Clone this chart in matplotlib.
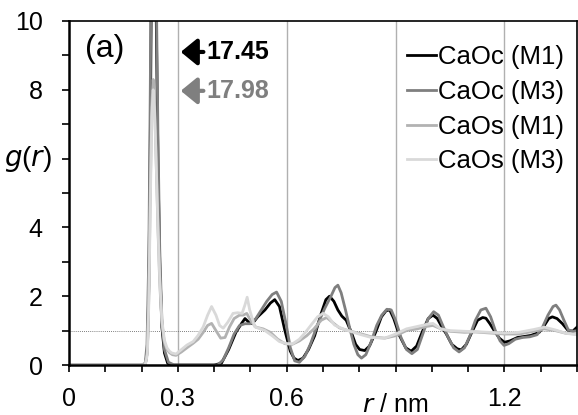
import numpy as np
import matplotlib
matplotlib.use('Agg')
import matplotlib.pyplot as plt
from matplotlib.ticker import MultipleLocator

plt.rcParams['font.family'] = ['Liberation Sans', 'DejaVu Sans']

# CaOc (M1)
r_oc1 = [0.0, 0.21, 0.216, 0.22, 0.224, 0.228, 0.232, 0.236, 0.24, 0.245, 0.25, 0.256, 0.263, 0.272, 0.28,
         0.40, 0.42, 0.44, 0.46, 0.475, 0.485, 0.495, 0.505, 0.52, 0.54, 0.555, 0.567, 0.58, 0.595,
         0.61, 0.62, 0.631, 0.645, 0.66, 0.677, 0.695, 0.708, 0.718, 0.73, 0.741, 0.752, 0.764, 0.778,
         0.79, 0.801, 0.815, 0.828, 0.845, 0.861, 0.874, 0.884, 0.895, 0.911, 0.928, 0.943, 0.958,
         0.975, 0.99, 1.003, 1.015, 1.028, 1.04, 1.055, 1.07, 1.081, 1.095, 1.11, 1.126, 1.14, 1.149,
         1.16, 1.173, 1.186, 1.2, 1.215, 1.236, 1.255, 1.273, 1.296, 1.31, 1.322, 1.332, 1.345, 1.36,
         1.374, 1.388, 1.4]
g_oc1 = [0, 0, 0.4, 2.3, 6.5, 12.5, 17.45, 15, 10.5, 6, 3, 1.1, 0.35, 0.05, 0,
         0, 0.05, 0.45, 0.95, 1.2, 1.35, 1.25, 1.2, 1.4, 1.6, 1.8, 1.9, 1.7, 1.0,
         0.4, 0.2, 0.13, 0.2, 0.45, 0.85, 1.5, 1.9, 2.0, 1.85, 1.6, 1.42, 1.3, 0.95,
         0.6, 0.45, 0.42, 0.55, 0.95, 1.4, 1.58, 1.6, 1.35, 0.85, 0.5, 0.4, 0.55,
         1.0, 1.35, 1.45, 1.35, 1.1, 0.9, 0.6, 0.47, 0.44, 0.6, 0.95, 1.3, 1.38, 1.36,
         1.2, 0.98, 0.78, 0.66, 0.7, 0.8, 0.83, 0.86, 0.95, 1.15, 1.35, 1.4, 1.35, 1.2,
         1.02, 0.98, 1.1]

# CaOc (M3)
r_oc3 = [0.2, 0.21, 0.215, 0.22, 0.224, 0.228, 0.232, 0.236, 0.24, 0.245, 0.25, 0.256, 0.263, 0.274, 0.29,
         0.41, 0.425, 0.44, 0.455, 0.47, 0.485, 0.5, 0.515, 0.53, 0.545, 0.56, 0.572, 0.585, 0.598,
         0.61, 0.622, 0.635, 0.65, 0.665, 0.686, 0.705, 0.722, 0.733, 0.741, 0.75, 0.762, 0.773, 0.785,
         0.796, 0.806, 0.818, 0.832, 0.848, 0.862, 0.876, 0.888, 0.9, 0.915, 0.93, 0.945, 0.96, 0.975,
         0.99, 1.005, 1.018, 1.03, 1.045, 1.06, 1.075, 1.09, 1.105, 1.12, 1.135, 1.149, 1.162, 1.175,
         1.188, 1.199, 1.212, 1.23, 1.25, 1.27, 1.29, 1.305, 1.32, 1.334, 1.342, 1.352, 1.364, 1.376,
         1.39, 1.4]
g_oc3 = [0, 0.05, 0.6, 3.2, 8, 14, 17.98, 16, 11.5, 6.8, 3.4, 1.3, 0.45, 0.08, 0,
         0, 0.15, 0.5, 0.9, 1.15, 1.2, 1.2, 1.35, 1.6, 1.85, 2.05, 2.12, 1.85, 1.2,
         0.5, 0.12, 0.08, 0.25, 0.6, 1.2, 1.65, 2.0, 2.25, 2.32, 2.1, 1.6, 1.1, 0.6,
         0.3, 0.2, 0.3, 0.65, 1.15, 1.45, 1.62, 1.6, 1.3, 0.8, 0.45, 0.33, 0.45, 0.9,
         1.35, 1.55, 1.45, 1.15, 0.8, 0.5, 0.38, 0.5, 0.85, 1.3, 1.6, 1.65, 1.4, 1.0,
         0.7, 0.57, 0.62, 0.75, 0.8, 0.82, 0.88, 1.1, 1.45, 1.7, 1.74, 1.6, 1.3, 1.02,
         0.98, 1.0]

# CaOs (M1)
r_os1 = [0.0, 0.21, 0.216, 0.22, 0.224, 0.228, 0.232, 0.236, 0.24, 0.245, 0.25, 0.256, 0.263, 0.27,
         0.277, 0.285, 0.295, 0.31, 0.325, 0.342, 0.356, 0.37, 0.382, 0.393, 0.405, 0.418, 0.43,
         0.442, 0.455, 0.47, 0.48, 0.49, 0.5, 0.515, 0.535, 0.555, 0.575, 0.595, 0.615, 0.635, 0.655,
         0.675, 0.695, 0.71, 0.725, 0.745, 0.77, 0.8, 0.833, 0.87, 0.9, 0.93, 0.96, 0.985, 1.003,
         1.025, 1.05, 1.09, 1.12, 1.16, 1.2, 1.24, 1.28, 1.31, 1.34, 1.37, 1.4]
g_os1 = [0, 0, 0.4, 2.0, 5.0, 7.5, 8.3, 7.6, 6.0, 4.0, 2.4, 1.2, 0.65, 0.45,
         0.36, 0.3, 0.28, 0.38, 0.5, 0.63, 0.75, 0.95, 1.15, 1.21, 1.0, 0.78, 0.8,
         1.1, 1.35, 1.45, 1.45, 1.5, 1.3, 1.1, 1.05, 0.95, 0.75, 0.62, 0.6, 0.7, 0.85,
         1.05, 1.3, 1.38, 1.25, 1.08, 1.0, 0.92, 0.82, 0.78, 0.85, 1.0, 1.05, 1.12, 1.15,
         1.05, 0.98, 0.95, 0.96, 0.93, 0.9, 0.9, 0.98, 1.05, 1.0, 0.92, 0.9]

# CaOs (M3)
r_os3 = [0.0, 0.21, 0.216, 0.22, 0.224, 0.228, 0.232, 0.236, 0.24, 0.245, 0.25, 0.256, 0.263, 0.27,
         0.277, 0.283, 0.295, 0.31, 0.325, 0.342, 0.355, 0.37, 0.382, 0.393, 0.405, 0.415, 0.425,
         0.438, 0.452, 0.465, 0.477, 0.485, 0.491, 0.498, 0.512, 0.54, 0.56, 0.58, 0.6, 0.617, 0.635,
         0.65, 0.67, 0.685, 0.7, 0.715, 0.732, 0.755, 0.778, 0.805, 0.833, 0.87, 0.9, 0.93, 0.96,
         0.985, 1.003, 1.025, 1.05, 1.09, 1.12, 1.16, 1.2, 1.24, 1.28, 1.31, 1.34, 1.37, 1.4]
g_os3 = [0, 0, 0.3, 1.8, 4.6, 7.2, 8.0, 7.4, 6.0, 4.1, 2.5, 1.3, 0.72, 0.5,
         0.4, 0.35, 0.32, 0.45, 0.58, 0.68, 0.85, 1.11, 1.45, 1.7, 1.45, 1.15, 1.07,
         1.25, 1.5, 1.52, 1.5, 1.75, 1.97, 1.6, 1.11, 1.0, 0.85, 0.68, 0.62, 0.62, 0.75,
         0.93, 1.2, 1.4, 1.5, 1.4, 1.16, 1.05, 0.97, 0.88, 0.8, 0.78, 0.9, 1.05, 1.12,
         1.18, 1.21, 1.05, 1.0, 0.98, 0.97, 0.95, 0.93, 0.95, 1.03, 1.1, 1.02, 0.92, 0.88]

labels = ['CaOc (M1)', 'CaOc (M3)', 'CaOs (M1)', 'CaOs (M3)']
colors = ['#000000', '#7f7f7f', '#b2b2b2', '#d9d9d9']

fig = plt.figure(figsize=(5.78, 4.15), dpi=100)
ax = fig.add_axes([69 / 578, 50 / 415, 508 / 578, 344 / 415])

for x in [0.3, 0.6, 0.9, 1.2]:
    ax.axvline(x, color='#b0b0b0', lw=1.0, zorder=0)
ax.axhline(1, color='#555555', lw=0.6, ls=(0, (1, 1.5)), zorder=0.5)

series = [(r_oc1, g_oc1), (r_oc3, g_oc3), (r_os1, g_os1), (r_os3, g_os3)]
for (r, g), lab, c in zip(series, labels, colors):
    ax.plot(r, g, color=c, lw=2.0, label=lab, solid_joinstyle='round')

ax.set_xlim(0, 1.4)
ax.set_ylim(0, 10)
ax.set_xticks([0, 0.3, 0.6, 0.9, 1.2])
ax.set_xticklabels(['0', '0.3', '0.6', '', '1.2'])
ax.xaxis.set_minor_locator(MultipleLocator(0.1))
ax.set_yticks([0, 2, 4, 6, 8, 10])
ax.set_yticklabels(['0', '2', '4', '', '8', '10'])
ax.yaxis.set_minor_locator(MultipleLocator(1))
ax.tick_params(which='both', direction='out', length=5, width=1.2, labelsize=18)
ax.tick_params(axis='x', which='major', pad=11)
ax.tick_params(axis='y', which='major', pad=14)

for s in ['left', 'bottom']:
    ax.spines[s].set_linewidth(1.8)
for s in ['top', 'right']:
    ax.spines[s].set_linewidth(1.2)

# axis titles sitting in the place of the 0.9 and 6 tick labels
ax.text(0.9, -0.08, r'$\it{r}$ / nm', transform=ax.get_xaxis_transform(),
        ha='center', va='top', fontsize=18)
ax.text(-0.033, 6, r'$\it{g}$($\it{r}$)', transform=ax.get_yaxis_transform(),
        ha='right', va='center', fontsize=20)

ax.text(0.045, 9.2, '(a)', fontsize=23, va='center', ha='left')

ax.annotate('17.45', xy=(0.308, 9.1), xytext=(0.378, 9.1), fontsize=18, fontweight='bold',
            color='black', va='center', ha='left',
            arrowprops=dict(arrowstyle='-|>,head_length=0.55,head_width=0.45', color='black', lw=3,
                            shrinkA=0, shrinkB=0))
ax.annotate('17.98', xy=(0.308, 7.97), xytext=(0.378, 7.97), fontsize=18, fontweight='bold',
            color='#7f7f7f', va='center', ha='left',
            arrowprops=dict(arrowstyle='-|>,head_length=0.55,head_width=0.45', color='#7f7f7f', lw=3,
                            shrinkA=0, shrinkB=0))

ax.legend(loc='upper right', bbox_to_anchor=(0.975, 0.93), frameon=False, fontsize=18.5,
          handlelength=1.1, handletextpad=0.1, labelspacing=0.42, borderpad=0, borderaxespad=0)

fig.savefig('out.png', dpi=100)
